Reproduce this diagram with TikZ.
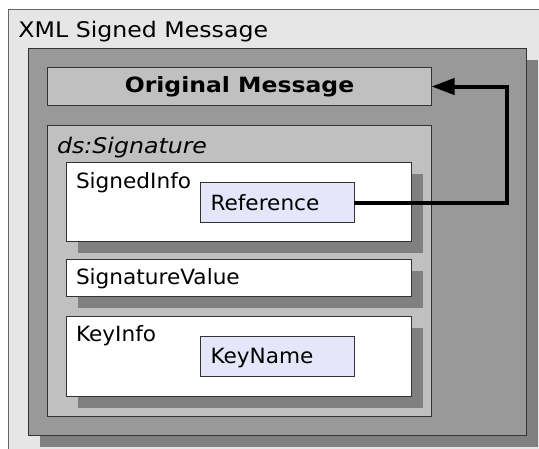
\documentclass[tikz,border=0pt]{standalone}
\usepackage{fontspec}
\setmainfont{DejaVu Sans}
\newfontfamily\titlefont{DejaVu Sans}[FakeStretch=1.1]
\newfontfamily\labelfont{DejaVu Sans}[FakeStretch=1.03]
\newfontfamily\headfont{DejaVu Sans}[FakeStretch=1.12]
\usetikzlibrary{shadows,arrows.meta}
\definecolor{outerfill}{HTML}{E6E6E6}
\definecolor{darkfill}{HTML}{999999}
\definecolor{shadowgray}{HTML}{808080}
\definecolor{midfill}{HTML}{C0C0C0}
\definecolor{lavfill}{HTML}{E6E6FA}
\definecolor{edge}{HTML}{333333}
\tikzset{
  box/.style={rectangle, anchor=north west, inner sep=0pt, outer sep=0pt, draw=edge, line width=1pt},
  shadowed/.style={drop shadow={shadow xshift=11.5pt, shadow yshift=-11.5pt, fill=shadowgray, opacity=1}},
  titletext/.style={anchor=base west, inner sep=0pt, font=\titlefont\fontsize{21.5}{24}\selectfont},
  labeltext/.style={anchor=base west, inner sep=0pt, font=\labelfont\fontsize{21}{24}\selectfont},
  arrowline/.style={line width=4pt, -{Triangle[length=23pt,width=16pt]}},
}
\begin{document}
\begin{tikzpicture}[x=1pt,y=-1pt]
\useasboundingbox (0,0) rectangle (539,448);
\fill[white] (0,0) rectangle (539,448);
\clip (0,0) rectangle (539,448);
% outer
\node[box, draw=gray!80!black, fill=outerfill, minimum width=600pt, minimum height=500pt] (outer) at (8.5,9) {};
\node[titletext] (outertitle) at ([xshift=9.8pt,yshift=-28.3pt]outer.north west) {XML Signed Message};
% container
\node[box, fill=darkfill, shadowed, minimum width=498.5pt, minimum height=386.5pt] (container) at (28,48.5) {};
% original message
\node[box, fill=midfill, minimum width=384pt, minimum height=38pt, font=\headfont\fontsize{21}{24}\selectfont\bfseries] (orig) at (47.5,67.5) {Original Message};
% ds:Signature
\node[box, fill=midfill, minimum width=384pt, minimum height=291pt] (dssig) at (47.5,125) {};
\node[titletext, font=\titlefont\fontsize{21.5}{24}\selectfont\itshape] (dssiglabel) at ([xshift=9.4pt,yshift=-28.3pt]dssig.north west) {ds:Signature};
% SignedInfo
\node[box, fill=white, shadowed, minimum width=345pt, minimum height=78.5pt] (signedinfo) at (66.5,162.7) {};
\node[labeltext] (signedinfolabel) at ([xshift=9.3pt,yshift=-25.6pt]signedinfo.north west) {SignedInfo};
\node[box, fill=lavfill, minimum width=153.5pt, minimum height=40pt] (reference) at (200.5,182.5) {};
\node[labeltext] (referencelabel) at ([xshift=9.8pt,yshift=-27.5pt]reference.north west) {Reference};
% SignatureValue
\node[box, fill=white, shadowed, minimum width=345pt, minimum height=37.4pt] (sigvalue) at (66.5,259.3) {};
\node[labeltext] (sigvaluelabel) at ([xshift=9.3pt,yshift=-24.7pt]sigvalue.north west) {SignatureValue};
% KeyInfo
\node[box, fill=white, shadowed, minimum width=345pt, minimum height=80pt] (keyinfo) at (66.5,316) {};
\node[labeltext] (keyinfolabel) at ([xshift=9.3pt,yshift=-25.6pt]keyinfo.north west) {KeyInfo};
\node[box, fill=lavfill, minimum width=153.5pt, minimum height=40pt] (keyname) at (200.5,336) {};
\node[labeltext] (keynamelabel) at ([xshift=9.8pt,yshift=-27pt]keyname.north west) {KeyName};
% arrow
\coordinate (bendx) at (506.7,0);
\draw[arrowline] (reference.east) -- (reference.east -| bendx) |- (orig.east);
\end{tikzpicture}
\end{document}
